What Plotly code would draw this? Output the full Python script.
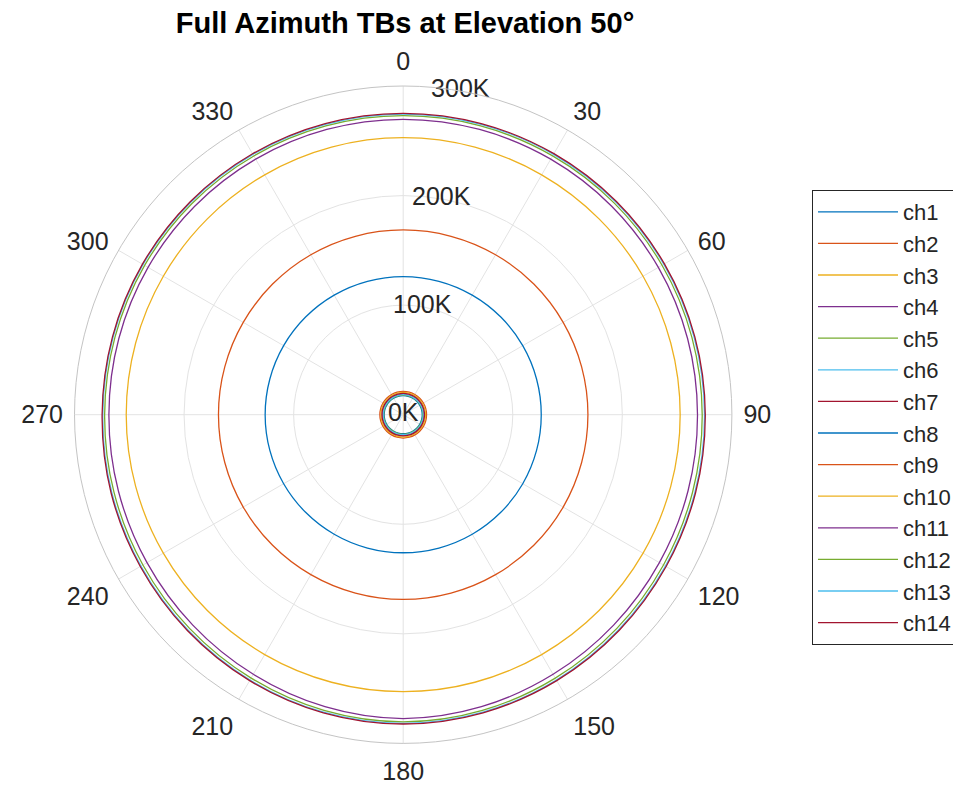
import plotly.graph_objects as go

# Azimuth grid (degrees, clockwise from north) shared by every channel
azimuth = [0, 15, 30, 45, 60, 75, 90, 105, 120, 135, 150, 165, 180,
           195, 210, 225, 240, 255, 270, 285, 300, 315, 330, 345, 360]

# Brightness temperatures (K) per channel along the azimuth grid
ch1 = [17.4] * 25
ch2 = [21.3] * 25
ch3 = [20.4] * 25
ch4 = [18.6] * 25
ch5 = [17.9] * 25
ch6 = [18.3] * 25
ch7 = [19.4] * 25
ch8 = [126.0] * 25
ch9 = [168.6] * 25
ch10 = [252.8] * 25
ch11 = [269.6, 269.5, 269.3, 269.1, 268.9, 268.7, 268.6, 269.1, 270.0, 271.6, 273.6, 275.9, 277.3,
        275.9, 273.6, 271.6, 270.0, 269.1, 268.6, 268.7, 268.9, 269.1, 269.3, 269.5, 269.6]
ch12 = [272.9, 272.9, 272.8, 272.8, 272.8, 272.8, 272.9, 273.4, 274.3, 275.8, 277.6, 279.4, 280.3,
        279.4, 277.6, 275.8, 274.3, 273.3, 272.5, 272.4, 272.5, 272.6, 272.7, 272.8, 272.9]
ch13 = [274.4, 274.4, 274.4, 274.5, 274.6, 274.8, 275.0, 275.5, 276.4, 277.9, 279.6, 281.1, 281.7,
        281.1, 279.6, 277.9, 276.4, 275.3, 274.2, 274.1, 274.2, 274.3, 274.4, 274.4, 274.4]
ch14 = [275.1, 275.1, 275.1, 275.2, 275.3, 275.5, 275.7, 276.2, 277.1, 278.6, 280.3, 281.7, 282.3,
        281.7, 280.3, 278.6, 277.1, 276.0, 274.8, 274.7, 274.8, 274.9, 275.0, 275.1, 275.1]

channel_names = ["ch1", "ch2", "ch3", "ch4", "ch5", "ch6", "ch7",
                 "ch8", "ch9", "ch10", "ch11", "ch12", "ch13", "ch14"]
channel_values = [ch1, ch2, ch3, ch4, ch5, ch6, ch7,
                  ch8, ch9, ch10, ch11, ch12, ch13, ch14]

# Angular tick positions and labels
theta_ticks = [0, 30, 60, 90, 120, 150, 180, 210, 240, 270, 300, 330]
theta_tick_labels = ["0", "30", "60", "90", "120", "150", "180",
                     "210", "240", "270", "300", "330"]

# Radial tick values and their labels
r_ticks = [0, 100, 200, 300]
r_tick_labels = ["0K", "100K", "200K", "300K"]
r_label_angle = 10

palette = ["#0072BD", "#D95319", "#EDB120", "#7E2F8E", "#77AC30", "#4DBEEE", "#A2142F"]
FONT = "Liberation Sans, Arial, Helvetica, sans-serif"
TEXT = "#262626"

fig = go.Figure()
for i, (name, vals) in enumerate(zip(channel_names, channel_values)):
    fig.add_trace(go.Scatterpolar(
        r=vals, theta=azimuth, name=name, mode="lines",
        line=dict(color=palette[i % len(palette)], width=1.3, shape="spline"),
    ))

# Radial tick labels placed on the rings along one azimuth
fig.add_trace(go.Scatterpolar(
    r=r_ticks, theta=[r_label_angle] * len(r_ticks), text=r_tick_labels,
    mode="text", textposition="middle center",
    textfont=dict(size=25, color=TEXT, family=FONT),
    showlegend=False, hoverinfo="skip",
))

W, H = 953, 786
cx, cy, rad = 403.2, 414.7, 328.7

fig.update_layout(
    width=W, height=H,
    margin=dict(l=0, r=0, t=0, b=0, autoexpand=False),
    paper_bgcolor="white",
    font=dict(family=FONT, color=TEXT),
    title=dict(text="<b>Full Azimuth TBs at Elevation 50°</b>",
               x=405 / W, xanchor="center", xref="paper",
               y=1 - 23 / H, yanchor="middle", yref="container",
               font=dict(size=29, color="#000000", family=FONT)),
    polar=dict(
        domain=dict(x=[(cx - rad) / W, (cx + rad) / W],
                    y=[(H - cy - rad) / H, (H - cy + rad) / H]),
        bgcolor="white",
        angularaxis=dict(
            rotation=90, direction="clockwise",
            tickmode="array", tickvals=theta_ticks, ticktext=theta_tick_labels,
            tickfont=dict(size=25, color=TEXT, family=FONT),
            ticks="outside", ticklen=6, tickcolor="rgba(0,0,0,0)",
            showline=True, linecolor="#c4c4c4", linewidth=1,
            gridcolor="#e3e3e3", gridwidth=1,
        ),
        radialaxis=dict(
            range=[0, 300], tickvals=r_ticks,
            showticklabels=False, ticks="", showline=False,
            gridcolor="#e3e3e3", gridwidth=1,
        ),
    ),
    legend=dict(
        x=812 / W, xanchor="left", y=1 - 190 / H, yanchor="top",
        bgcolor="white", bordercolor="#262626", borderwidth=1,
        font=dict(size=22, color=TEXT, family=FONT),
        itemwidth=80, tracegroupgap=0,
    ),
    showlegend=True,
)

fig.write_html("out.html", config={"displayModeBar": False})
